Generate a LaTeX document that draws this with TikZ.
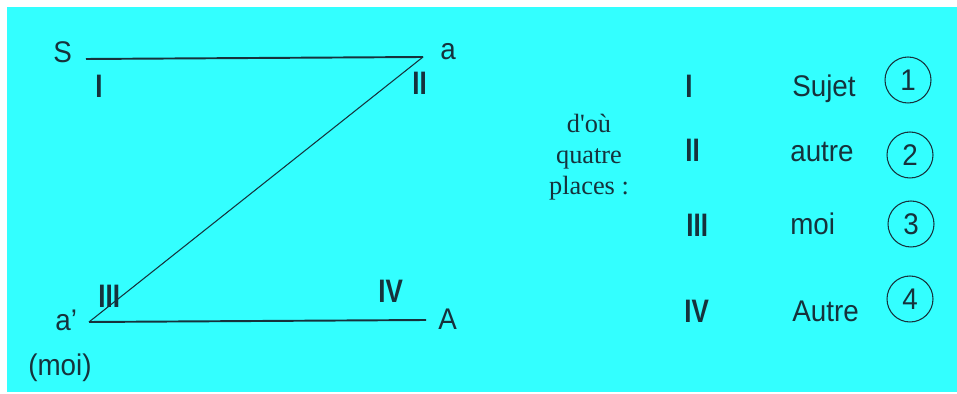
\documentclass[tikz,border=0pt]{standalone}
\usepackage{fontspec}
\setmainfont[FakeStretch=0.93]{Liberation Sans}
\newfontfamily\serifpolice{Liberation Serif}
\newfontfamily\chiffres[FakeStretch=0.8]{Liberation Sans}
\definecolor{fond}{RGB}{51,255,255}
\definecolor{encre}{RGB}{22,50,60}

\begin{document}
\begin{tikzpicture}[x=0.02cm,y=-0.02cm,
    every node/.style={text=encre,inner sep=0pt,anchor=base west,font=\fontsize{17}{20}\selectfont},
    num/.style={font=\chiffres\fontsize{18.5}{20}\selectfont\bfseries},
    rond/.style={draw=encre,circle,anchor=center,line width=0.6pt,minimum size=0.92cm},
    trait/.style={draw=encre,line width=1.1pt}]
  \useasboundingbox (0,0) rectangle (957,394);
  \fill[fond] (7,7) rectangle (957,392);

  \node (S) at (53,63) {S};
  \node (a) at (440,60) {a};
  \node (ap) at (55,331) {a'};
  \node (A) at (438,330) {A};
  \node (moi) at (28,376) {(moi)};
  \coordinate (s0) at (86,59);
  \coordinate (a0) at (423,57);
  \coordinate (ap0) at (89,322);
  \coordinate (A0) at (426,320);
  \draw[trait] (s0) -- (a0);
  \draw[trait] (ap0) -- (A0);
  \draw[encre,line width=0.6pt] (a0) -- (ap0);

  \node[num] (pI) at (95,98) {I};
  \node[num] (pII) at (412,95) {II};
  \node[num] (pIII) at (98,308) {III};
  \node[num] (pIV) at (378,303) {IV};

  \node[anchor=center,align=center,font=\serifpolice\fontsize{15}{17.5}\selectfont] (places) at (589,157)
    {d'où\\quatre\\places :};

  \node[num] (nI) at (685,98) {I};
  \node[num] (nII) at (685,162) {II};
  \node[num] (nIII) at (686,237) {III};
  \node[num] (nIV) at (684,323) {IV};

  \node (sujet) at (792,97) {Sujet};
  \node (autre) at (790,162) {autre};
  \node (moi2) at (790,235) {moi};
  \node (Autre) at (792,322) {Autre};

  \node[rond] (c1) at (908,80) {1};
  \node[rond] (c2) at (910,155) {2};
  \node[rond] (c3) at (911,224) {3};
  \node[rond] (c4) at (910,299) {4};
\end{tikzpicture}
\end{document}
